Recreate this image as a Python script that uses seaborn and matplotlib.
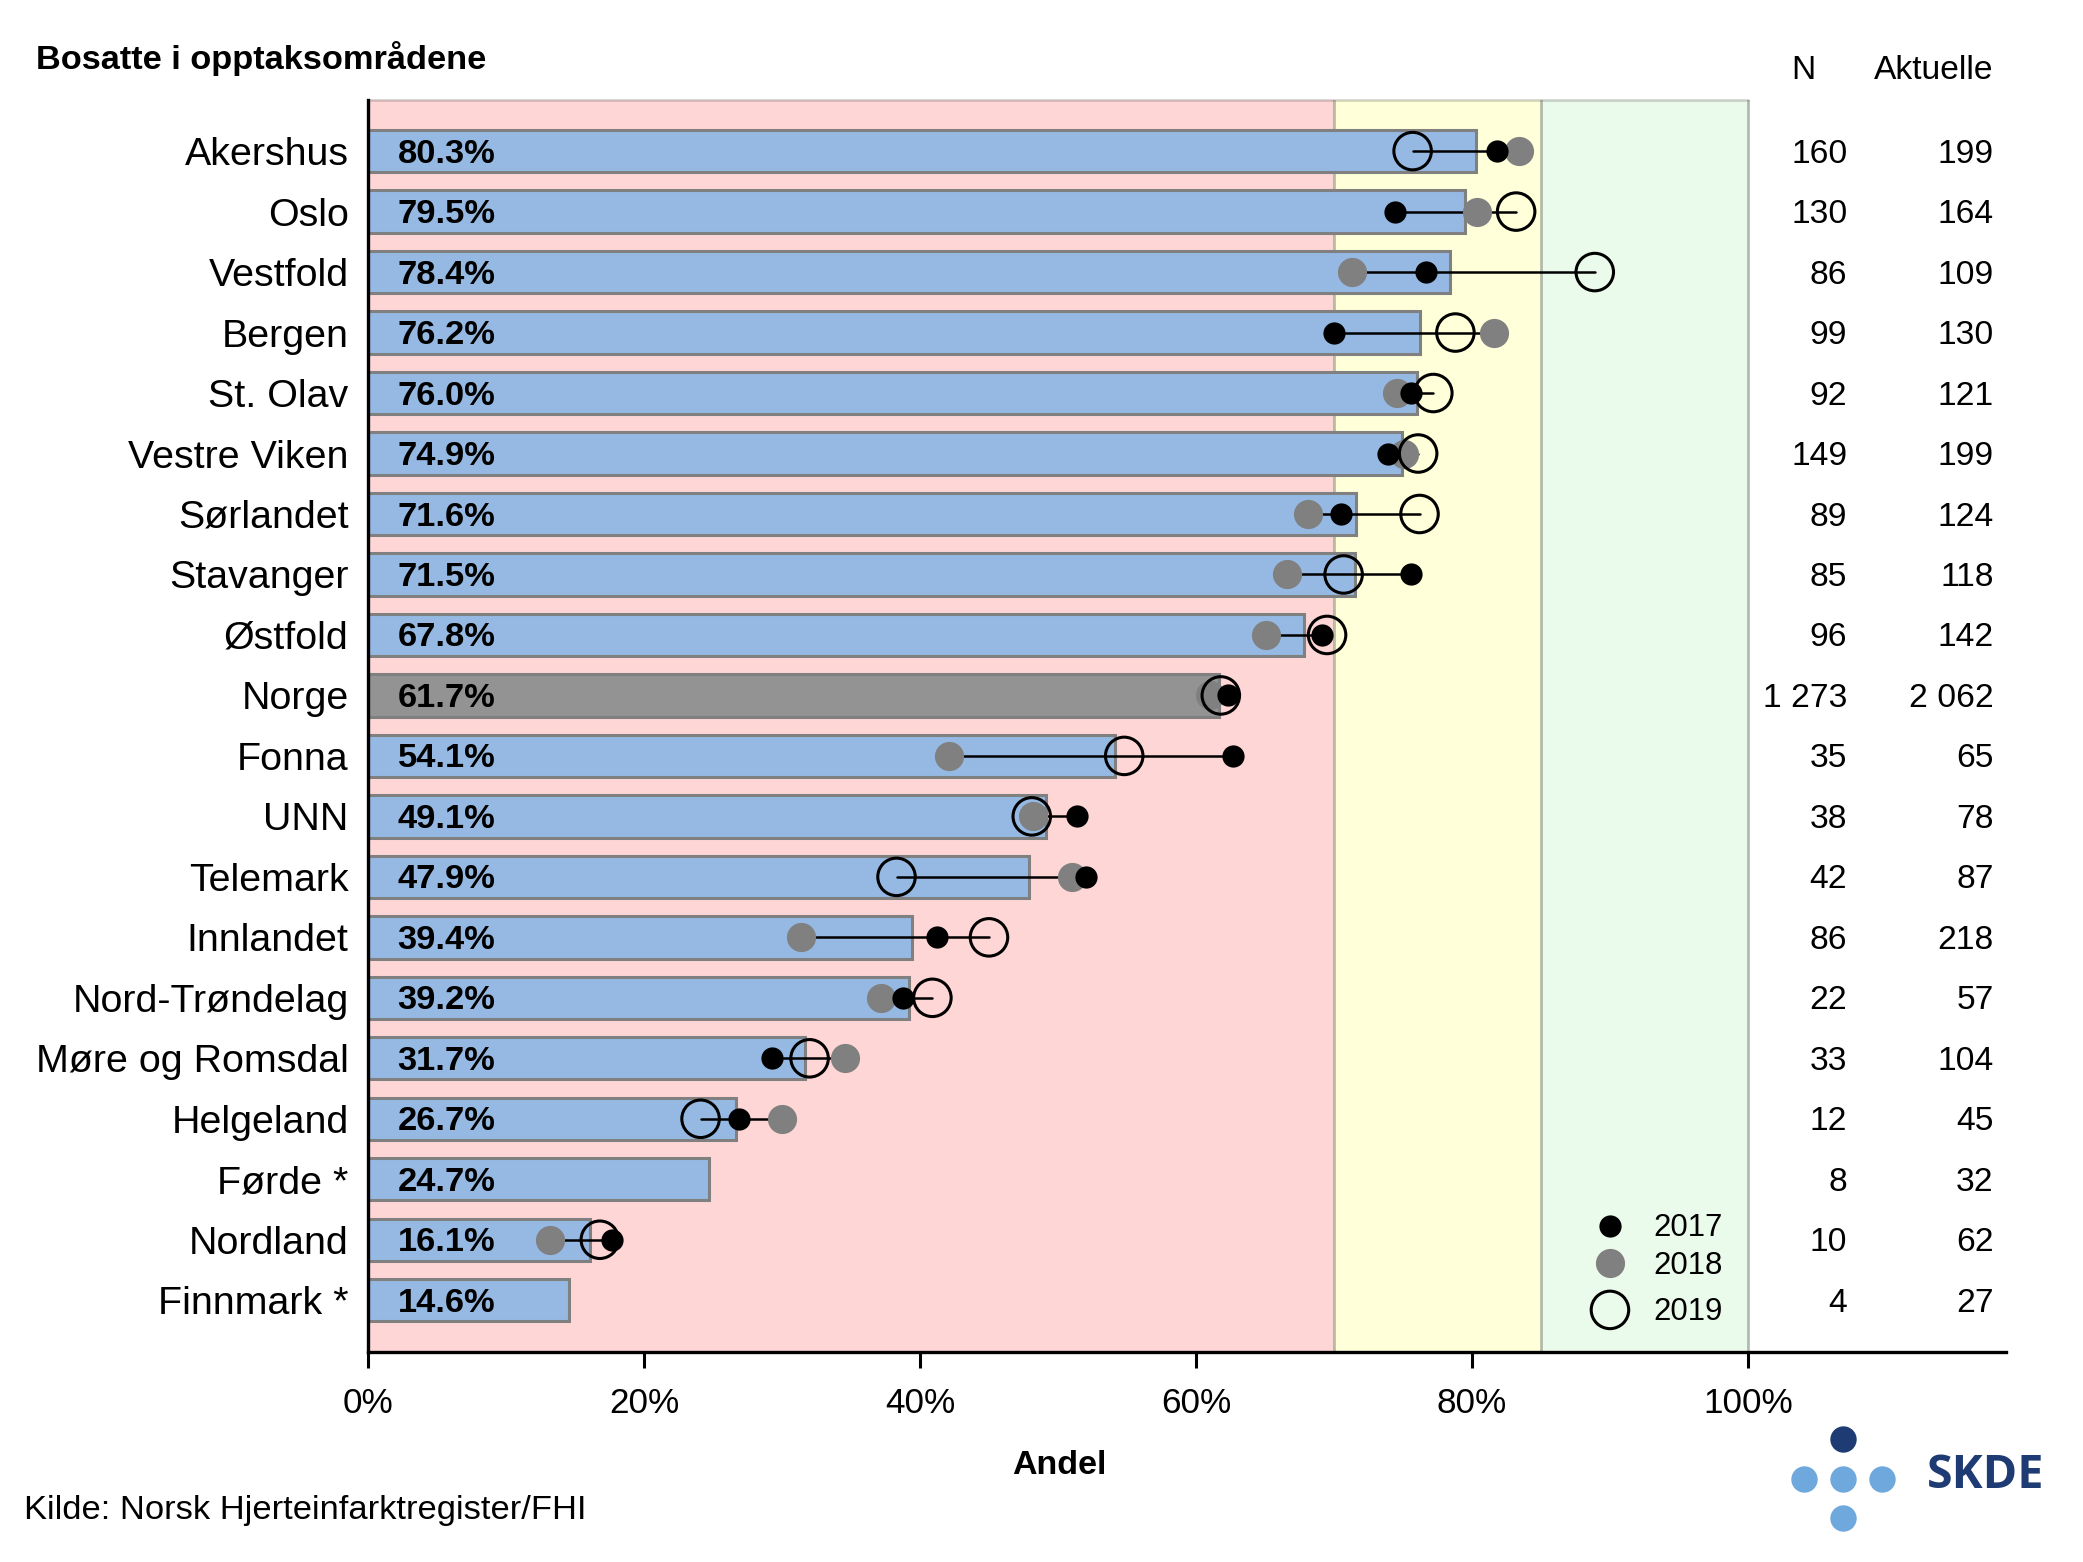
import numpy as np
import pandas as pd
import seaborn as sns
import matplotlib.pyplot as plt

names = ["Akershus", "Oslo", "Vestfold", "Bergen", "St. Olav", "Vestre Viken", "Sørlandet",
         "Stavanger", "Østfold", "Norge", "Fonna", "UNN", "Telemark", "Innlandet",
         "Nord-Trøndelag", "Møre og Romsdal", "Helgeland", "Førde *", "Nordland", "Finnmark *"]
andel = [80.3, 79.5, 78.4, 76.2, 76.0, 74.9, 71.6, 71.5, 67.8, 61.7,
         54.1, 49.1, 47.9, 39.4, 39.2, 31.7, 26.7, 24.7, 16.1, 14.6]
y2017 = [81.8, 74.4, 76.7, 70.0, 75.6, 73.9, 70.5, 75.6, 69.1, 62.3,
         62.7, 51.4, 52.0, 41.2, 38.8, 29.3, 26.9, np.nan, 17.7, np.nan]
y2018 = [83.4, 80.4, 71.3, 81.6, 74.6, 75.1, 68.1, 66.6, 65.1, 61.0,
         42.1, 48.2, 51.0, 31.4, 37.2, 34.6, 30.0, np.nan, 13.2, np.nan]
y2019 = [75.7, 83.2, 88.9, 78.8, 77.2, 76.1, 76.2, 70.7, 69.5, 61.8,
         54.8, 48.1, 38.3, 45.0, 40.9, 32.0, 24.1, np.nan, 16.8, np.nan]
n_vals = ["160", "130", "86", "99", "92", "149", "89", "85", "96", "1 273",
          "35", "38", "42", "86", "22", "33", "12", "8", "10", "4"]
aktuelle = ["199", "164", "109", "130", "121", "199", "124", "118", "142", "2 062",
            "65", "78", "87", "218", "57", "104", "45", "32", "62", "27"]

sns.set_style("white", {"text.color": "black", "axes.labelcolor": "black",
                        "xtick.color": "black", "ytick.color": "black"})
plt.rcParams['font.family'] = ['Liberation Sans', 'DejaVu Sans']

df = pd.DataFrame({"name": names, "andel": andel, "y2017": y2017, "y2018": y2018, "y2019": y2019})
df["pos"] = df.index

W, H = 2083, 1562
fig = plt.figure(figsize=(W / 100, H / 100), dpi=100)
ax = fig.add_axes([368 / W, 1 - 1352 / H, (2006 - 368) / W, (1352 - 100) / H])

# target zones
edge = (0.35, 0.35, 0.35, 0.4)
ax.axvspan(0, 70, color="#FFD6D6", zorder=0)
ax.axvspan(70, 85, color="#FFFFD9", zorder=0)
ax.axvspan(85, 100, color="#EBFBEB", zorder=0)
for v in (70, 85, 100):
    ax.axvline(v, color=edge, lw=2, zorder=0.5)
ax.plot([0, 100], [-0.845, -0.845], color=(0.35, 0.35, 0.35, 0.25), lw=2, zorder=0.5, clip_on=False)

colors = ["#939393" if n == "Norge" else "#95B9E3" for n in names]
sns.barplot(data=df, y="name", x="andel", hue="name", palette=colors, legend=False, ax=ax,
            width=0.7, edgecolor="#808080", linewidth=2.2, saturation=1, dodge=False, zorder=2)

# line from lowest to highest of the three years
for _, row in df.dropna().iterrows():
    vals = [row.y2017, row.y2018, row.y2019]
    ax.plot([min(vals), max(vals)], [row.pos, row.pos], color="black", lw=1.8, zorder=3)

sns.scatterplot(data=df, x="y2018", y="pos", color="#808080", s=21 ** 2, linewidth=0, ax=ax, zorder=4)
sns.scatterplot(data=df, x="y2017", y="pos", color="black", s=16 ** 2, linewidth=0, ax=ax, zorder=5)
sns.scatterplot(data=df, x="y2019", y="pos", facecolor="none", edgecolor="black", s=27 ** 2, linewidth=2.2,
                ax=ax, zorder=6)

for i, v in enumerate(andel):
    ax.text(2.15, i + 0.05, f"{v:.1f}%", ha="left", va="center", fontsize=24.8, fontweight="bold", zorder=7)
    ax.text(107.2, i + 0.05, n_vals[i], ha="right", va="center", fontsize=24.2)
    ax.text(117.8, i + 0.05, aktuelle[i], ha="right", va="center", fontsize=24.2)

ax.text(104, -1.33, "N", ha="center", va="center", fontsize=24.2)
ax.text(117.8, -1.33, "Aktuelle", ha="right", va="center", fontsize=24.2)

ax.set_xlim(0, 118.7)
ax.set_ylim(19.856, -0.845)
ax.set_xticks([0, 20, 40, 60, 80, 100])
ax.set_xticklabels([f"{t}%" for t in [0, 20, 40, 60, 80, 100]], fontsize=25.3)
ax.set_xlabel("Andel", fontsize=24.5, fontweight="bold")
ax.xaxis.set_label_coords(0.422, -0.078)
ax.set_ylabel("")
ax.tick_params(axis="x", length=11.5, width=2.2, bottom=True, pad=14)
ax.tick_params(axis="y", length=0, labelsize=28.4, pad=14)

sns.despine(ax=ax)
for side in ("left", "bottom"):
    ax.spines[side].set_linewidth(2.4)
    ax.spines[side].set_color("black")
    ax.spines[side].set_zorder(8)

# legend drawn by hand, the rows are unevenly spaced in the original
ax.scatter(90, 17.77, color="black", s=16 ** 2, linewidth=0, zorder=5)
ax.scatter(90, 18.39, color="#808080", s=21 ** 2, linewidth=0, zorder=5)
ax.scatter(90, 19.16, facecolor="none", edgecolor="black", s=27 ** 2, linewidth=2.2, zorder=5)
for y, label in zip((17.80, 18.43, 19.20), ("2017", "2018", "2019")):
    ax.text(93.15, y, label, ha="left", va="center", fontsize=22.4)

fig.text(36 / W, 1 - 58 / H, "Bosatte i opptaksområdene", fontsize=24.75, fontweight="bold", ha="left", va="center")
fig.text(24 / W, 1 - 1510 / H, "Kilde: Norsk Hjerteinfarktregister/FHI", fontsize=24.8, ha="left", va="center")

# SKDE logo
logo = fig.add_axes([1780 / W, 1 - 1550 / H, 140 / W, 130 / H])
logo.set_xlim(1780, 1920)
logo.set_ylim(1550, 1420)
logo.axis("off")
sns.scatterplot(x=[1843], y=[1439], color="#1F3B73", s=19 ** 2, linewidth=0, ax=logo, legend=False)
sns.scatterplot(x=[1804, 1843, 1882, 1843], y=[1479, 1479, 1479, 1518], color="#6FA8DC", s=19 ** 2,
                linewidth=0, ax=logo, legend=False)
fig.text(1927 / W, 1 - 1475 / H, "SKDE", fontsize=33.6, fontweight="bold", family="Open Sans", color="#1F3B73",
         ha="left", va="center")

fig.savefig("out.png", dpi=100)
